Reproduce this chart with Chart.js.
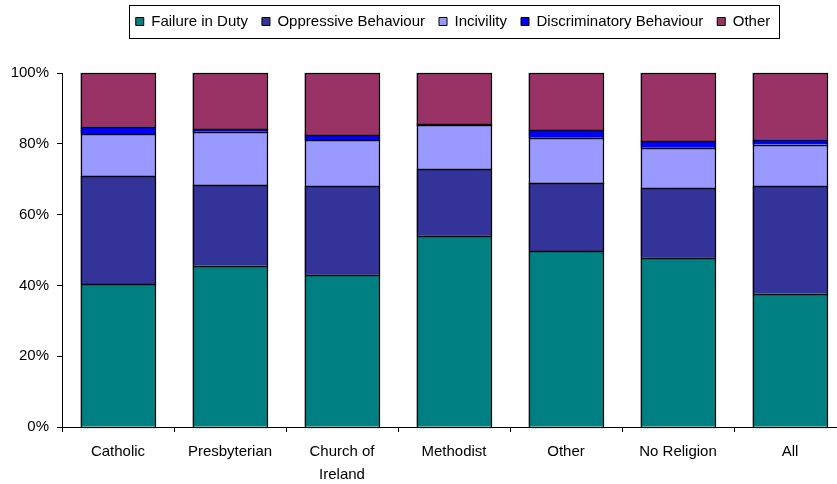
<!DOCTYPE html>
<html lang="en">

<head>
    <title>Complaints by Religion</title>
    <meta charset="utf-8">
    <script src="https://cdn.jsdelivr.net/npm/chart.js"></script>
    <style>
        html, body { margin: 0; padding: 0; background: #fff; overflow: hidden; }
        #wrap { width: 906px; height: 484px; }
    </style>
</head>

<body>
    <div id="wrap">
        <canvas id="religionChart" width="906" height="484"></canvas>
    </div>

    <script>
        // categories along the x axis
        const groups = ['Catholic', 'Presbyterian', ['Church of', 'Ireland'], 'Methodist', 'Other', 'No Religion', 'All'];

        // percentage share of each complaint type per group
        const failureInDuty = [40.4, 45.6, 43.0, 54.0, 49.6, 47.8, 37.7];
        const oppressive = [30.6, 22.8, 25.1, 18.9, 19.4, 19.7, 30.3];
        const incivility = [11.8, 15.0, 13.0, 12.3, 12.7, 11.4, 11.8];
        const discriminatory = [2.0, 0.8, 1.4, 0.4, 2.1, 1.9, 1.4];
        const otherType = [15.2, 15.8, 17.5, 14.4, 16.2, 19.2, 18.8];

        const yTicks = [0, 20, 40, 60, 80, 100];

        Chart.defaults.font.family = '"Liberation Sans", Arial, sans-serif';
        Chart.defaults.font.size = 15;
        Chart.defaults.color = '#000';

        // box around the legend, and some room between legend and plot
        const legendBox = {
            id: 'legendBox',
            afterInit(chart) {
                const lg = chart.legend;
                const fit = lg.fit;
                lg.fit = function () {
                    fit.call(this);
                    this.height += 34;
                };
            },
            afterDraw(chart) {
                const boxes = chart.legend.legendHitBoxes;
                if (!boxes || !boxes.length) return;
                const left = boxes[0].left - 7;
                const last = boxes[boxes.length - 1];
                const right = last.left + last.width + 8;
                const top = boxes[0].top - 9;
                const bottom = boxes[0].top + boxes[0].height + 9;
                const c = chart.ctx;
                c.save();
                c.strokeStyle = '#000';
                c.lineWidth = 1;
                c.strokeRect(Math.round(left) + 0.5, Math.round(top) + 0.5, Math.round(right - left), Math.round(bottom - top));
                c.restore();
            }
        };

        // crisp single outlines round every bar segment
        const barOutline = {
            id: 'barOutline',
            afterDatasetsDraw(chart) {
                const c = chart.ctx;
                c.save();
                c.strokeStyle = '#000';
                c.lineWidth = 1.2;
                chart.data.datasets.forEach((ds, i) => {
                    chart.getDatasetMeta(i).data.forEach((bar) => {
                        const p = bar.getProps(['x', 'y', 'base', 'width'], true);
                        const l = Math.round(p.x - p.width / 2) + 0.5;
                        const r = Math.round(p.x + p.width / 2) + 0.5;
                        const t = Math.round(Math.min(p.y, p.base)) + 0.5;
                        const b = Math.round(Math.max(p.y, p.base)) + 0.5;
                        c.strokeRect(l, t, r - l, b - t);
                    });
                });
                c.restore();
            }
        };

        const makeSet = (label, data, color) => ({
            label: label,
            data: data,
            backgroundColor: color,
            borderColor: '#000',
            borderWidth: 0,
            categoryPercentage: 1.0,
            barPercentage: 0.667
        });

        new Chart(document.getElementById('religionChart'), {
            type: 'bar',
            data: {
                labels: groups,
                datasets: [
                    makeSet('Failure in Duty', failureInDuty, '#008080'),
                    makeSet('Oppressive Behaviour', oppressive, '#333399'),
                    makeSet('Incivility', incivility, '#9999FF'),
                    makeSet('Discriminatory Behaviour', discriminatory, '#0000FF'),
                    makeSet('Other', otherType, '#993366')
                ]
            },
            options: {
                responsive: false,
                animation: false,
                layout: { padding: { top: 0, left: 0, bottom: 0 } },
                plugins: {
                    legend: {
                        position: 'top',
                        labels: {
                            boxWidth: 8,
                            boxHeight: 8,
                            padding: 14,
                            color: '#000',
                            useBorderRadius: false,
                            generateLabels: (chart) => Chart.defaults.plugins.legend.labels.generateLabels(chart).map((item) => {
                                item.strokeStyle = '#000';
                                item.lineWidth = 1;
                                return item;
                            })
                        }
                    },
                    tooltip: { enabled: false }
                },
                scales: {
                    x: {
                        stacked: true,
                        afterFit: (scale) => { scale.height = 57; },
                        grid: { drawOnChartArea: false, tickLength: 5, color: '#000', offset: true },
                        border: { color: '#000', width: 1 },
                        ticks: { padding: 9, maxRotation: 0, autoSkip: false, font: { lineHeight: 1.5 } }
                    },
                    y: {
                        stacked: true,
                        min: 0,
                        max: 100,
                        afterFit: (scale) => { scale.width = 62; },
                        afterBuildTicks: (scale) => { scale.ticks = yTicks.map(v => ({ value: v })); },
                        grid: { drawOnChartArea: false, tickLength: 5, color: '#000' },
                        border: { color: '#000', width: 1 },
                        ticks: { padding: 8, callback: (v) => v + '%' }
                    },
                    spare: {
                        position: 'right',
                        display: true,
                        afterFit: (scale) => { scale.width = 60; },
                        grid: { display: false },
                        border: { display: false },
                        ticks: { display: false }
                    }
                }
            },
            plugins: [legendBox, barOutline]
        });
    </script>
</body>

</html>
